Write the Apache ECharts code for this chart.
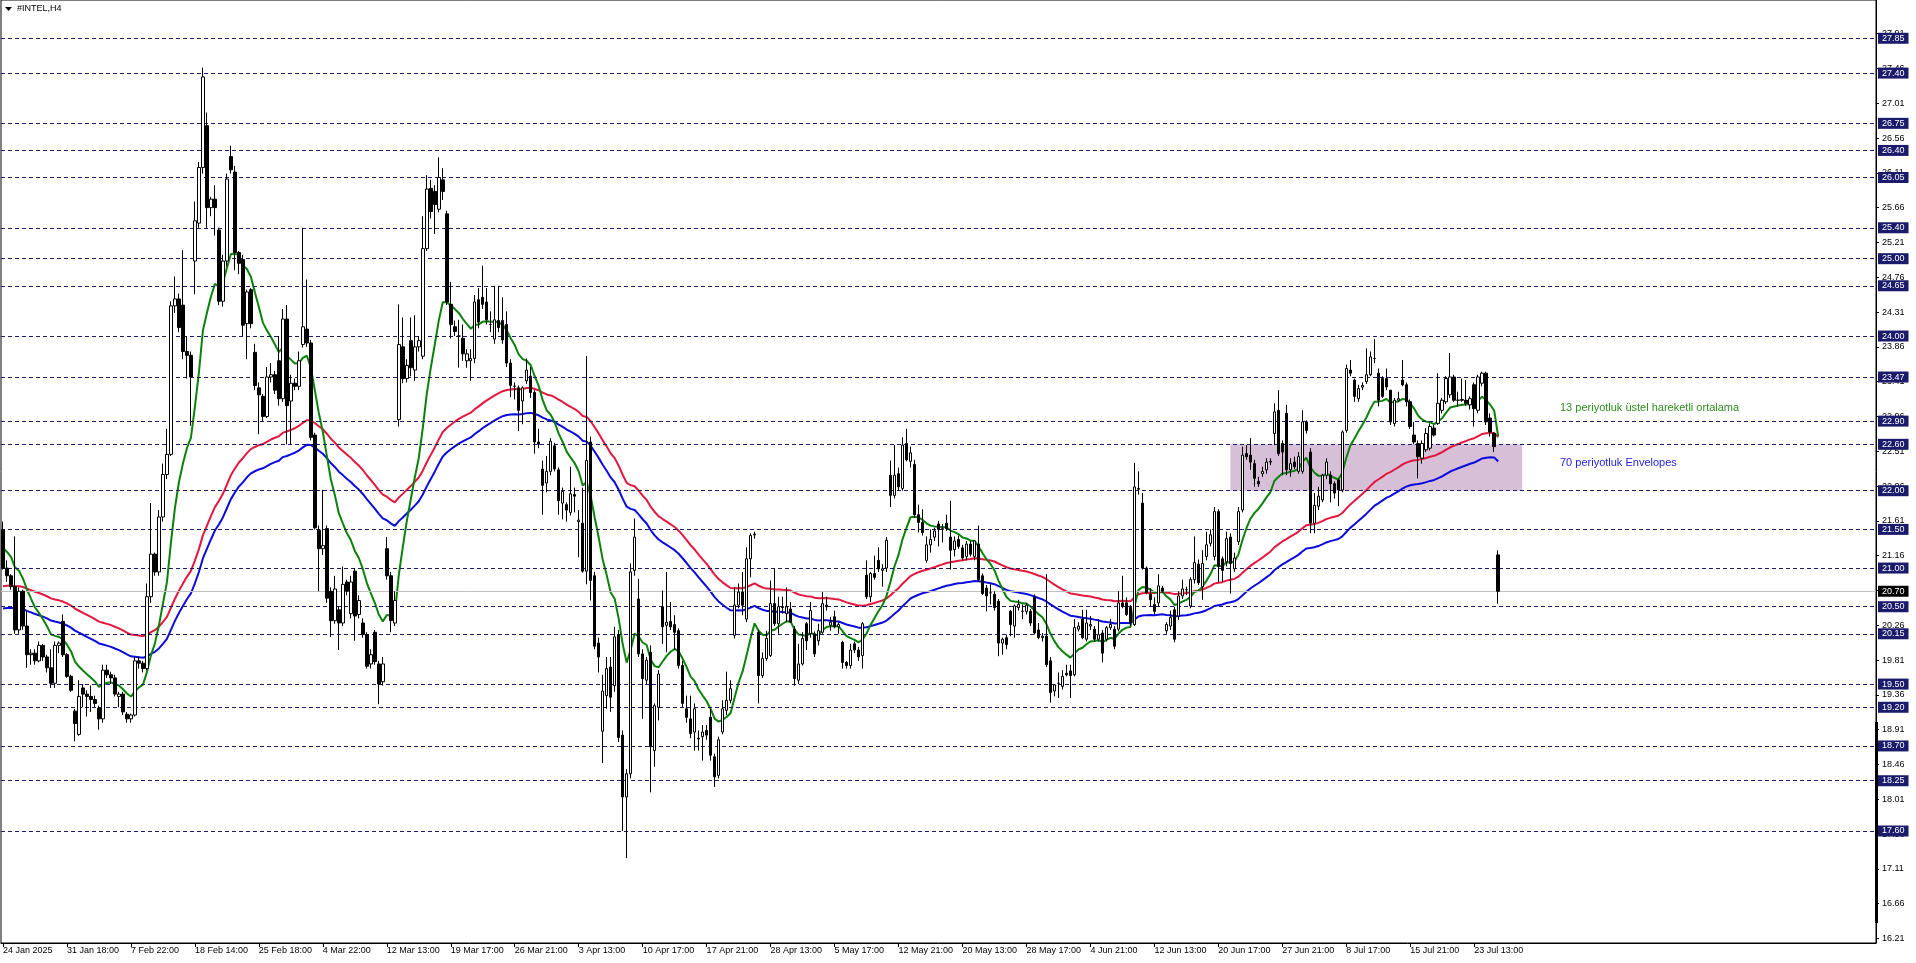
<!DOCTYPE html>
<html><head><meta charset="utf-8">
<script src="https://cdn.jsdelivr.net/npm/echarts@6/dist/echarts.min.js"></script>
<style>html,body{margin:0;padding:0;background:#fff;overflow:hidden}#c{width:1916px;height:963px}</style>
</head><body><div id="c"></div>
<script>
// ---- tick labels ----
const tickLabels = ['24 Jan 2025','31 Jan 18:00','7 Feb 22:00','18 Feb 14:00','25 Feb 18:00','4 Mar 22:00','12 Mar 13:00','19 Mar 17:00','26 Mar 21:00','3 Apr 13:00','10 Apr 17:00','17 Apr 21:00','28 Apr 13:00','5 May 17:00','12 May 21:00','20 May 13:00','28 May 17:00','4 Jun 21:00','12 Jun 13:00','20 Jun 17:00','27 Jun 21:00','8 Jul 17:00','15 Jul 21:00','23 Jul 13:00'];
const barsPerLabel = 16;
const yTicks = [16.21,16.66,17.11,17.56,18.01,18.46,18.91,19.36,19.81,20.26,20.71,21.16,21.61,22.06,22.51,22.96,23.41,23.86,24.31,24.76,25.21,25.66,26.11,26.56,27.01,27.46,27.91];
const levels = [27.85,27.40,26.75,26.40,26.05,25.40,25.00,24.65,24.00,23.47,22.90,22.60,22.00,21.50,21.00,20.50,20.15,19.50,19.20,18.70,18.25,17.60];
const currentPrice = 20.70;
const yMin = 16.152, yMax = 28.345;
const totalSlots = 469;

// ---- H4 candles ----
const opens = [
21.49,21.00,20.90,20.76,20.20,20.70,20.25,19.88,19.90,19.80,
20.00,19.85,19.71,19.51,20.00,20.31,19.88,19.60,19.15,18.85,
19.45,19.37,19.34,19.30,19.19,19.05,19.68,19.62,19.58,19.34,
19.37,19.11,19.05,19.10,19.80,19.77,19.70,20.63,21.18,20.95,
21.66,22.21,22.47,24.39,24.48,24.40,23.80,23.75,24.97,25.46,
26.18,26.72,25.66,25.77,25.37,24.45,24.97,26.32,26.12,25.08,
24.99,24.16,24.60,23.79,23.33,23.22,22.96,23.47,23.50,23.68,
23.19,24.22,23.16,23.39,23.35,23.89,24.09,23.91,22.72,21.49,
21.25,21.51,20.70,20.32,20.46,20.29,20.82,20.41,20.96,20.40,
20.29,20.14,19.76,20.17,19.76,19.53,21.25,20.90,20.29,22.92,
23.86,23.45,23.94,23.56,23.86,23.74,25.13,25.91,25.87,25.64,
26.02,25.58,24.41,24.12,24.00,23.97,23.68,23.68,23.71,24.47,
24.50,24.44,24.15,23.96,24.20,24.20,24.15,23.65,23.35,23.33,
23.16,23.42,23.48,23.27,22.63,22.28,22.10,22.25,22.58,22.27,
21.84,21.82,21.72,21.95,21.60,21.58,20.96,22.63,20.90,20.03,
18.89,19.35,19.72,19.48,20.14,18.84,18.04,18.34,20.97,20.60,
19.89,19.55,19.91,18.64,19.20,20.50,20.26,20.31,20.27,20.19,
19.74,19.18,19.05,18.88,18.80,18.82,18.90,19.07,18.56,18.32,
18.88,19.16,19.29,20.13,20.52,20.69,20.34,21.12,21.43,20.17,
19.61,19.83,19.87,20.54,20.28,20.50,20.41,20.47,20.21,19.55,
19.76,20.28,20.15,20.15,20.06,20.17,20.52,20.26,20.37,20.24,
20.04,19.78,19.74,20.02,19.94,19.87,20.91,20.63,20.93,21.10,
20.97,21.00,22.20,21.94,22.22,22.03,22.61,22.38,22.34,21.69,
21.59,21.10,21.30,21.40,21.57,21.50,21.58,21.40,21.24,21.37,
21.26,21.15,21.31,21.15,21.31,20.90,20.74,20.68,20.66,20.57,
20.03,20.10,20.44,20.25,20.49,20.44,20.44,20.44,20.62,20.20,
20.10,20.12,19.80,19.41,19.51,19.47,19.64,19.67,19.62,20.21,
20.34,20.08,20.25,20.21,20.08,20.16,20.08,20.23,20.21,20.21,
20.55,20.55,20.49,20.27,22.03,21.84,21.00,20.66,20.53,20.55,
20.74,20.19,20.25,20.46,20.38,20.64,20.72,20.51,20.85,21.05,
20.76,21.15,21.32,21.15,21.73,21.12,21.08,21.40,20.99,21.34,
21.75,22.48,22.46,22.35,22.12,22.22,22.27,22.37,22.74,23.04,
22.61,23.00,22.27,22.37,22.25,22.25,22.89,22.50,21.58,21.80,
21.88,22.20,22.20,22.09,22.14,22.01,22.78,23.56,23.43,23.19,
23.34,23.41,23.50,23.71,23.52,23.45,23.45,23.30,22.87,23.17,
23.43,23.37,23.15,22.72,22.61,22.42,22.53,22.55,22.81,22.87,
23.04,23.15,23.24,23.47,23.17,23.18,23.17,23.11,23.37,23.04,
23.39,23.52,22.94,22.74,21.17];
const highs = [
21.60,21.10,20.92,21.41,20.75,20.72,20.45,19.95,19.95,20.05,
20.02,19.88,19.95,20.05,20.05,20.40,19.90,19.62,19.18,19.55,
19.50,19.42,19.48,19.35,19.22,19.75,19.75,19.66,19.62,19.40,
19.40,19.14,19.12,19.85,19.85,19.80,20.80,21.84,21.20,21.75,
22.35,22.80,24.45,24.77,24.55,25.11,24.00,23.80,25.74,26.25,
27.47,26.89,25.80,25.95,25.40,25.05,26.10,26.46,26.20,25.10,
25.05,24.60,24.62,23.90,23.40,23.25,23.60,23.65,23.55,24.00,
24.35,24.40,23.50,23.45,23.80,25.40,24.73,23.95,22.75,21.55,
22.01,21.55,20.75,20.90,20.50,21.02,20.85,20.90,21.00,20.65,
20.35,20.17,19.95,20.20,19.80,19.85,21.40,20.95,20.70,24.41,
24.24,23.70,24.24,24.27,24.00,25.55,26.08,26.02,25.95,26.31,
26.17,25.62,24.70,24.20,24.21,24.15,23.83,23.83,24.53,24.62,
24.91,24.62,24.32,24.65,24.65,24.50,24.32,23.70,23.40,23.36,
23.35,23.71,23.60,23.30,22.80,22.39,22.45,22.68,22.62,22.30,
22.04,21.85,22.31,22.04,21.75,22.04,23.74,22.70,20.95,20.10,
19.62,19.85,19.85,20.24,20.20,18.90,18.40,21.06,21.64,20.86,
19.95,19.85,20.00,19.25,19.68,20.71,20.95,20.56,20.39,20.22,
19.80,19.35,19.35,19.25,18.90,18.97,18.97,19.18,18.60,18.82,
19.29,19.66,19.55,20.75,20.80,20.95,21.27,21.45,21.47,20.20,
19.91,20.19,20.84,20.99,20.63,20.63,20.75,20.56,20.25,20.02,
20.17,20.30,20.56,20.18,20.28,20.69,20.63,20.37,20.45,20.30,
20.06,19.80,20.02,20.05,19.98,20.30,21.10,20.95,21.16,21.27,
21.05,21.40,22.39,22.59,22.30,22.69,22.80,22.57,22.40,21.82,
21.76,21.41,21.50,21.52,21.61,21.57,21.69,21.87,21.41,21.42,
21.30,21.35,21.35,21.35,21.55,20.93,20.78,20.79,20.70,20.60,
20.10,20.14,20.46,20.53,20.59,20.53,20.55,20.47,20.66,20.29,
20.16,20.92,19.85,19.50,19.65,19.68,19.75,19.75,20.34,20.30,
20.46,20.46,20.38,20.25,20.34,20.20,20.25,20.34,20.25,20.70,
20.90,20.62,20.52,22.36,22.25,21.97,21.02,20.74,20.62,20.92,
20.77,20.30,20.45,20.50,20.70,20.85,20.76,20.88,21.41,21.11,
21.23,21.47,21.50,21.79,21.76,21.15,21.47,21.45,21.20,21.79,
22.57,22.59,22.68,22.40,22.18,22.31,22.42,22.42,23.13,23.30,
22.65,23.11,22.42,22.44,22.50,23.04,22.91,22.55,21.97,22.05,
22.22,22.42,22.25,22.12,22.16,22.78,23.63,23.69,23.45,23.37,
23.40,23.84,23.80,23.96,23.58,23.48,23.58,23.30,23.20,23.28,
23.69,23.40,23.18,22.89,22.65,22.65,22.81,22.87,22.85,23.52,
23.20,23.48,23.78,23.50,23.28,23.45,23.43,23.22,23.40,23.50,
23.54,23.54,23.00,22.76,21.23];
const lows = [
20.98,20.82,20.72,20.15,20.15,20.20,19.71,19.75,19.75,19.78,
19.80,19.65,19.45,19.45,19.90,19.85,19.58,19.40,18.76,18.83,
19.20,19.08,19.14,19.20,18.91,19.00,19.58,19.50,19.34,19.20,
19.10,19.00,19.00,19.08,19.70,19.65,19.68,20.55,20.90,20.90,
21.60,22.15,22.45,24.30,24.05,23.70,23.45,22.84,24.54,25.40,
26.10,25.40,25.55,25.30,24.40,24.38,24.90,26.10,24.85,24.80,
24.00,23.70,24.10,23.30,22.73,22.90,22.94,23.40,23.25,23.10,
23.15,22.60,22.60,23.30,23.30,23.85,23.86,22.65,21.50,20.70,
21.17,20.55,20.11,20.28,19.94,20.25,20.65,20.35,20.06,20.35,
20.10,19.70,19.70,19.75,19.24,19.48,20.85,20.17,20.25,22.83,
23.39,23.40,23.48,23.42,23.80,23.70,25.10,25.52,25.32,25.60,
25.76,24.40,23.97,24.00,23.59,23.68,23.59,23.42,23.65,24.10,
24.35,24.15,24.05,23.90,24.05,23.90,23.60,23.21,23.18,22.77,
22.86,23.38,23.20,22.48,22.55,21.69,21.98,22.20,22.25,21.69,
21.63,21.60,21.68,21.72,21.14,20.94,20.79,20.58,19.95,19.65,
18.48,19.18,19.14,19.40,18.75,17.60,17.25,18.28,20.90,19.85,
19.05,19.50,18.10,18.43,19.03,20.02,19.91,20.20,19.94,19.70,
19.20,19.00,18.80,18.64,18.64,18.51,18.78,18.51,18.17,18.28,
18.85,19.10,19.25,20.09,20.48,20.39,20.30,20.88,21.38,19.25,
19.58,19.80,19.85,20.25,20.15,20.41,20.30,20.30,19.48,19.50,
19.74,19.94,20.10,19.85,20.00,20.15,20.45,20.19,20.22,20.15,
19.70,19.70,19.70,19.90,19.80,19.70,20.60,20.56,20.85,20.95,
20.76,20.95,21.79,21.90,22.00,22.00,22.38,22.30,21.65,21.46,
21.42,21.07,21.20,21.35,21.28,21.33,21.48,20.98,21.15,21.25,
21.10,21.10,21.15,21.10,20.82,20.65,20.44,20.53,20.45,19.86,
19.88,19.95,20.12,20.10,20.45,20.34,20.40,20.25,20.14,20.08,
20.05,19.72,19.26,19.34,19.32,19.43,19.60,19.32,19.60,20.18,
20.08,20.05,20.20,20.05,20.05,19.78,20.05,20.20,19.95,20.18,
20.48,20.38,20.25,20.25,21.95,20.98,20.66,20.50,20.40,20.50,
20.68,20.15,20.20,20.04,20.33,20.60,20.65,20.48,20.80,20.78,
20.59,21.10,21.28,21.10,20.82,20.82,21.02,20.67,20.95,21.30,
21.72,22.40,22.27,22.05,22.05,22.18,22.22,22.33,22.59,22.45,
22.20,22.20,22.18,22.28,22.22,22.22,22.74,21.45,21.45,21.75,
21.85,22.15,21.85,21.90,21.80,21.98,22.75,23.48,23.15,23.15,
23.30,23.38,23.48,23.65,23.09,23.20,23.30,22.85,22.83,23.15,
23.35,23.09,22.80,22.60,22.16,22.35,22.50,22.52,22.70,22.85,
23.00,23.12,23.20,23.15,23.09,23.15,23.10,23.05,22.83,23.00,
23.35,22.85,22.70,22.50,20.54];
const closes = [
21.00,20.90,20.76,20.20,20.70,20.25,19.88,19.90,19.80,20.00,
19.85,19.71,19.51,20.00,20.03,19.88,19.60,19.42,18.99,19.34,
19.37,19.34,19.30,19.25,19.05,19.68,19.62,19.58,19.37,19.37,
19.14,19.05,19.10,19.80,19.77,19.70,20.63,21.18,20.95,21.66,
22.21,22.47,24.39,24.48,24.11,23.80,23.75,23.47,25.49,26.18,
27.35,25.66,25.77,25.66,24.45,24.97,26.03,26.15,25.08,24.94,
24.14,24.57,24.16,23.36,23.24,22.96,23.47,23.50,23.30,23.19,
24.22,23.10,23.39,23.35,23.68,24.12,23.91,22.69,21.52,21.25,
21.29,20.61,20.32,20.73,20.29,20.79,20.70,20.82,20.38,20.58,
20.14,19.73,19.88,19.79,19.50,19.76,20.90,20.32,20.58,23.89,
23.45,23.62,23.59,23.86,23.94,25.13,25.90,25.61,25.70,26.05,
25.87,24.44,24.15,24.06,24.00,23.77,23.77,23.71,24.44,24.18,
24.41,24.21,24.15,24.21,24.11,23.95,23.65,23.36,23.35,23.04,
23.33,23.56,23.27,22.63,22.60,22.07,22.25,22.64,22.28,21.87,
21.99,21.75,21.96,21.93,21.62,20.96,22.39,20.84,19.99,19.85,
19.41,19.70,19.33,20.11,18.81,18.04,18.34,20.95,21.40,19.89,
19.57,19.81,18.69,19.22,19.63,20.24,20.30,20.24,20.17,19.74,
19.25,19.07,18.86,19.18,18.79,18.88,18.84,18.58,18.30,18.78,
19.18,19.29,19.44,20.52,20.69,20.52,21.12,21.42,21.44,19.61,
19.83,20.09,20.54,20.28,20.50,20.49,20.50,20.30,19.57,19.76,
20.09,20.06,20.45,19.89,20.19,20.54,20.50,20.30,20.24,20.27,
19.78,19.74,19.94,19.94,19.85,20.28,20.63,20.93,20.88,20.99,
20.99,21.36,21.94,22.20,22.05,22.59,22.40,22.49,21.69,21.59,
21.46,21.30,21.37,21.48,21.50,21.51,21.51,21.23,21.35,21.28,
21.13,21.31,21.18,21.35,20.85,20.67,20.64,20.68,20.49,20.03,
20.08,20.01,20.27,20.51,20.53,20.44,20.52,20.29,20.16,20.10,
20.12,19.75,19.39,19.49,19.51,19.60,19.62,19.61,20.23,20.25,
20.10,20.29,20.27,20.08,20.14,19.90,20.23,20.27,19.99,20.55,
20.51,20.40,20.29,22.05,22.02,21.00,20.68,20.59,20.44,20.77,
20.70,20.27,20.36,20.08,20.64,20.73,20.72,20.85,21.07,20.81,
21.06,21.30,21.43,21.73,21.02,20.97,21.38,21.06,21.13,21.73,
22.46,22.44,22.37,22.16,22.09,22.25,22.37,22.38,23.02,22.48,
22.50,22.27,22.35,22.31,22.44,22.89,22.78,21.58,21.81,21.93,
22.20,22.37,22.09,21.97,22.01,22.76,23.58,23.52,23.22,23.32,
23.36,23.50,23.73,23.71,23.17,23.22,23.34,22.89,23.17,23.19,
23.37,23.15,22.83,22.63,22.44,22.61,22.74,22.83,22.72,23.13,
23.17,23.45,23.47,23.17,23.17,23.17,23.13,23.19,23.06,23.47,
23.52,22.89,22.76,22.57,20.70];

// ---- indicator settings (values at first bar) ----
const emaPeriod = 13, emaSeed = 21.26;
const envPeriod = 70, envSeed = 20.62, envDeviation = 0.007;

// ---- zone box & notes ----
const zoneStartBar = 307, zoneEndBar = 380, zoneLow = 22.00, zoneHigh = 22.60;
const noteEma = '13 periyotluk üstel hareketli ortalama';
const noteEnv = '70 periyotluk Envelopes';
const symbolTitle = '#INTEL,H4';

// ---- build ----
const cats = Array.from({length: totalSlots}, (_, i) => String(i));
const candleData = opens.map((o, i) => {
  const c = closes[i];
  return [o, c, Math.min(lows[i], o, c), Math.max(highs[i], o, c)];
});
function ema(src, period, seed) {
  const k = 2 / (period + 1); const out = [];
  let v = seed;
  src.forEach((x, i) => { if (i > 0) v = v + k * (x - v); out.push(+v.toFixed(4)); });
  return out;
}
const ema13 = ema(closes, emaPeriod, emaSeed);
const envMid = ema(closes, envPeriod, envSeed);
const envUpper = envMid.map(v => +(v * (1 + envDeviation)).toFixed(4));
const envLower = envMid.map(v => +(v * (1 - envDeviation)).toFixed(4));

const FONT = 'Liberation Sans';
const NAVY = '#1b1b6b';
const isTick = idx => idx % barsPerLabel === 0 && idx / barsPerLabel < tickLabels.length;

const levelLines = levels.map(v => ({
  yAxis: v,
  lineStyle: {color: NAVY, type: [4, 3], width: 1},
  label: {show: true, position: 'end', distance: 2, formatter: v.toFixed(2), color: '#fff', backgroundColor: NAVY,
          padding: [1, 4, 1, 4], fontSize: 9, lineHeight: 9, fontFamily: FONT}
}));
levelLines.push({
  yAxis: currentPrice,
  lineStyle: {color: '#c0c0c0', type: 'solid', width: 1},
  label: {show: true, position: 'end', distance: 2, formatter: currentPrice.toFixed(2), color: '#fff', backgroundColor: '#000',
          padding: [1, 4, 1, 4], fontSize: 9, lineHeight: 9, fontFamily: FONT}
});

const chart = echarts.init(document.getElementById('c'), null, {renderer: 'canvas', width: 1916, height: 963});
chart.setOption({
  animation: false,
  backgroundColor: '#ffffff',
  grid: {left: 0, right: 40, top: 0, bottom: 20, show: true, borderColor: '#000', borderWidth: 1, backgroundColor: 'transparent'},
  xAxis: {
    type: 'category', data: cats, boundaryGap: true,
    axisLine: {show: true, lineStyle: {color: '#000', width: 1}},
    axisTick: {show: true, alignWithLabel: true, interval: (i) => isTick(i), length: 4, lineStyle: {color: '#000'}},
    axisLabel: {show: true, interval: (i) => isTick(i), formatter: (val, i) => tickLabels[i / barsPerLabel],
                align: 'left', margin: 3, fontSize: 9, fontFamily: FONT, color: '#000'},
    splitLine: {show: false}
  },
  yAxis: {
    type: 'value', position: 'right', min: yMin, max: yMax, scale: true,
    axisLine: {show: true, lineStyle: {color: '#000', width: 1}},
    axisTick: {show: true, customValues: yTicks, length: 3, lineStyle: {color: '#000'}},
    axisLabel: {show: true, customValues: yTicks, formatter: v => v.toFixed(2), margin: 6, fontSize: 9, fontFamily: FONT, color: '#000'},
    splitLine: {show: false}
  },
  series: [
    {
      name: 'zone', type: 'line', data: [], z: 1, silent: true, symbol: 'none',
      markArea: {silent: true, itemStyle: {color: '#d8bfd8', opacity: 1},
        data: [[{xAxis: zoneStartBar, yAxis: zoneLow}, {xAxis: zoneEndBar, yAxis: zoneHigh}]]}
    },
    {
      name: 'levels', type: 'line', data: [], z: 2, silent: true, symbol: 'none',
      markLine: {silent: true, symbol: ['none', 'none'], precision: 2, data: levelLines}
    },
    {
      name: 'candles', type: 'candlestick', data: candleData, z: 5, barWidth: 3,
      itemStyle: {color: '#ffffff', color0: '#000000', borderColor: '#000000', borderColor0: '#000000', borderWidth: 1}
    },
    {name: 'env+', type: 'line', data: envUpper, z: 4, symbol: 'none', lineStyle: {color: '#e3173d', width: 2}},
    {name: 'env-', type: 'line', data: envLower, z: 4, symbol: 'none', lineStyle: {color: '#0a0adc', width: 2}},
    {name: 'ema13', type: 'line', data: ema13, z: 4, symbol: 'none', lineStyle: {color: '#0a820a', width: 2}}
  ],
  graphic: [
    {type: 'polygon', shape: {points: [[5, 7], [12, 7], [8.5, 11]]}, style: {fill: '#000'}, z: 10},
    {type: 'text', left: 17, top: 4, z: 10, style: {text: symbolTitle, font: '9px "Liberation Sans"', fill: '#000'}},
    {type: 'text', left: 1560, top: 402, z: 10, style: {text: noteEma, font: '11px "Liberation Sans"', fill: '#2f8f1f'}},
    {type: 'text', left: 1560, top: 457, z: 10, style: {text: noteEnv, font: '11px "Liberation Sans"', fill: '#2323d6'}},
    {type: 'rect', shape: {x: 1875, y: 722, width: 3, height: 201}, style: {fill: '#000'}, z: 10}
  ]
});
</script>
</body></html>
